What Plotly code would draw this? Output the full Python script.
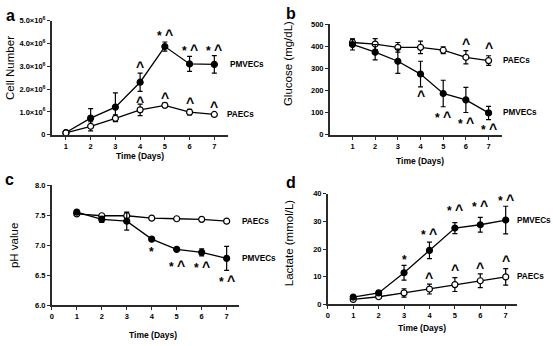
import plotly.graph_objects as go

days = [1, 2, 3, 4, 5, 6, 7]

# Panel a: cell number (x 10^6)
a_pmvec = [0.10, 0.73, 1.21, 2.30, 3.86, 3.10, 3.08]
a_pmvec_err = [0.05, 0.41, 0.62, 0.40, 0.20, 0.33, 0.38]
a_paec = [0.08, 0.37, 0.72, 1.09, 1.29, 0.99, 0.89]
a_paec_err = [0.04, 0.20, 0.15, 0.25, 0.10, 0.12, 0.05]
a_mark_pm = ["", "", "", "^", "*^", "*^", "*^"]
a_mark_pm_y = [None, None, None, 3.08, 4.5, 3.85, 3.85]
a_mark_pa = ["", "", "", "^", "^", "^", "^"]
a_mark_pa_y = [None, None, None, 1.55, 1.75, 1.5, 1.35]

# Panel b: glucose
b_pmvec = [409, 374, 333, 275, 187, 158, 99]
b_pmvec_err = [25, 35, 55, 58, 60, 57, 30]
b_paec = [418, 411, 396, 396, 383, 351, 336]
b_paec_err = [15, 25, 22, 28, 15, 30, 22]
b_mark_pm = ["", "", "", "^", "*^", "*^", "*^"]
b_mark_pm_y = [None, None, None, 187, 95, 67, 41]
b_mark_pa = ["", "", "", "", "", "^", "^"]
b_mark_pa_y = [None, None, None, None, None, 425, 405]

# Panel c: pH
c_pmvec = [7.55, 7.43, 7.40, 7.10, 6.93, 6.88, 6.78]
c_pmvec_err = [0.03, 0.05, 0.15, 0.02, 0.02, 0.06, 0.20]
c_paec = [7.52, 7.49, 7.49, 7.45, 7.44, 7.43, 7.40]
c_paec_err = [0.02, 0.02, 0.05, 0.01, 0.02, 0.02, 0.02]
c_mark = ["", "", "", "*", "*^", "*^", "*^"]
c_mark_y = [None, None, None, 6.93, 6.71, 6.68, 6.45]

# Panel d: lactate
d_pmvec = [2.6, 4.1, 11.4, 19.5, 27.6, 28.8, 30.5]
d_pmvec_err = [0.5, 0.5, 2.7, 3.0, 2.0, 2.7, 5.0]
d_paec = [1.75, 2.7, 4.1, 5.5, 7.1, 8.5, 9.9]
d_paec_err = [0.3, 0.4, 1.5, 1.8, 2.5, 2.5, 3.0]
d_mark_pm = ["", "", "*", "*^", "*^", "*^", "*^"]
d_mark_pm_y = [None, None, 17.1, 26.5, 35.2, 36.7, 39.0]
d_mark_pa = ["", "", "", "^", "^", "^", "^"]
d_mark_pa_y = [None, None, None, 10.5, 13.4, 14.3, 16.9]

a_yticks = [0, 1, 2, 3, 4, 5]
a_yticktext = ["0"] + ["%.1f×10<sup>6</sup>" % v for v in a_yticks[1:]]

W, H = 553, 346
FONT = "Liberation Sans, Arial, sans-serif"
AX = "#2a2a2a"

fig = go.Figure()
ann = []

def series(x, y, err, filled, xa, ya):
    fig.add_trace(go.Scatter(
        x=x, y=y, mode="lines+markers", xaxis=xa, yaxis=ya,
        line=dict(color="black", width=1.3),
        marker=dict(size=6, color="black" if filled else "white",
                    line=dict(color="black", width=1.2), symbol="circle"),
        error_y=dict(type="data", array=err, visible=True, color="black",
                     thickness=1.2, width=2.5),
        cliponaxis=False, showlegend=False, hoverinfo="skip"))

def fmt(t):
    out = []
    for ch in t:
        if ch == "^":
            out.append("<span style='font-size:14px'>^</span>")
        else:
            out.append(ch)
    return "<b>" + " ".join(out) + "</b>"

def marks(x, y, txt, xa, ya):
    for xi, yi, t in zip(x, y, txt):
        if yi is None:
            continue
        ann.append(dict(text=fmt(t), x=xi, y=yi, xref=xa, yref=ya,
                        xanchor="center", yanchor="middle", showarrow=False,
                        yshift=-3,
                        font=dict(family=FONT, size=12, color="black")))

series(days, a_pmvec, a_pmvec_err, True, "x", "y")
series(days, a_paec, a_paec_err, False, "x", "y")
marks(days, a_mark_pm_y, a_mark_pm, "x", "y")
marks(days, a_mark_pa_y, a_mark_pa, "x", "y")

series(days, b_paec, b_paec_err, False, "x2", "y2")
series(days, b_pmvec, b_pmvec_err, True, "x2", "y2")
marks(days, b_mark_pm_y, b_mark_pm, "x2", "y2")
marks(days, b_mark_pa_y, b_mark_pa, "x2", "y2")

series(days, c_paec, c_paec_err, False, "x3", "y3")
series(days, c_pmvec, c_pmvec_err, True, "x3", "y3")
marks(days, c_mark_y, c_mark, "x3", "y3")

series(days, d_paec, d_paec_err, False, "x4", "y4")
series(days, d_pmvec, d_pmvec_err, True, "x4", "y4")
marks(days, d_mark_pm_y, d_mark_pm, "x4", "y4")
marks(days, d_mark_pa_y, d_mark_pa, "x4", "y4")

def px(x0, x1):
    return [x0 / W, x1 / W]

def py(top, bottom):
    return [1 - bottom / H, 1 - top / H]

axcommon = dict(showline=True, linecolor=AX, linewidth=1.6, showgrid=False,
                zeroline=False, ticks="outside", ticklen=3, tickcolor=AX,
                tickwidth=1.2,
                tickfont=dict(family=FONT, size=7.5, color="black", weight="bold"))

fig.update_layout(
    width=W, height=H, margin=dict(l=0, r=0, t=0, b=0),
    plot_bgcolor="white", paper_bgcolor="white",
    xaxis=dict(domain=px(50, 227), range=[0.43, 7.56], tickvals=days,
               anchor="y", **axcommon),
    yaxis=dict(domain=py(15, 133), range=[0, 5], tickvals=a_yticks,
               ticktext=a_yticktext, anchor="x", **axcommon),
    xaxis2=dict(domain=px(329, 502), range=[0.0, 7.6], tickvals=days,
                anchor="y2", **axcommon),
    yaxis2=dict(domain=py(19, 133), range=[0, 500],
                tickvals=[0, 100, 200, 300, 400, 500], anchor="x2", **axcommon),
    xaxis3=dict(domain=px(50, 238), range=[0, 7.5], tickvals=[0] + days,
                anchor="y3", **axcommon),
    yaxis3=dict(domain=py(185, 309), range=[6.0, 8.0],
                tickvals=[6.0, 6.5, 7.0, 7.5, 8.0], tickformat=".1f",
                anchor="x3", **axcommon),
    xaxis4=dict(domain=px(327, 517), range=[0, 7.45], tickvals=[0] + days,
                anchor="y4", **axcommon),
    yaxis4=dict(domain=py(194, 308), range=[0, 40],
                tickvals=[0, 10, 20, 30, 40], anchor="x4", **axcommon),
)

def lab(text, x, y, xref, yref, xshift=12, size=8.2):
    ann.append(dict(text="<b>%s</b>" % text, x=x, y=y, xref=xref, yref=yref,
                    xanchor="left", yanchor="middle", showarrow=False,
                    xshift=xshift, font=dict(family=FONT, size=size, color="black")))

lab("PMVECs", 7, a_pmvec[-1], "x", "y", 14)
lab("PAECs", 7, a_paec[-1], "x", "y", 11)
lab("PAECs", 7, b_paec[-1], "x2", "y2", 12)
lab("PMVECs", 7, b_pmvec[-1], "x2", "y2", 12)
lab("PAECs", 7, c_paec[-1], "x3", "y3", 13)
lab("PMVECs", 7, c_pmvec[-1], "x3", "y3", 13)
lab("PMVECs", 7, d_pmvec[-1], "x4", "y4", 9)
lab("PAECs", 7, d_paec[-1], "x4", "y4", 9)

def ptext(text, x, y, size, bold=False, angle=0):
    ann.append(dict(text=("<b>%s</b>" % text) if bold else text,
                    x=x / W, y=1 - y / H, xref="paper", yref="paper",
                    xanchor="center", yanchor="middle", showarrow=False,
                    textangle=angle, font=dict(family=FONT, size=size, color="black")))

# x titles
ptext("Time (Days)", 138, 155, 8.5, True)
ptext("Time (Days)", 420, 160, 8.5, True)
ptext("Time (Days)", 152, 340, 8.5, True)
ptext("Time (Days)", 422, 333, 8.5, True)
# y titles
ptext("Cell Number", 8, 64, 11.5, False, -90)
ptext("Glucose (mg/dL)", 287, 59, 11.5, False, -90)
ptext("pH value", 12, 247, 11.5, False, -90)
ptext("Lactate (mmol/L)", 288, 245, 11.5, False, -90)
# panel letters
ptext("a", 9, 10, 16, True)
ptext("b", 290, 8, 16, True)
ptext("c", 8, 179, 16, True)
ptext("d", 290, 182, 16, True)

fig.update_layout(annotations=ann)
fig.write_html("out.html")
